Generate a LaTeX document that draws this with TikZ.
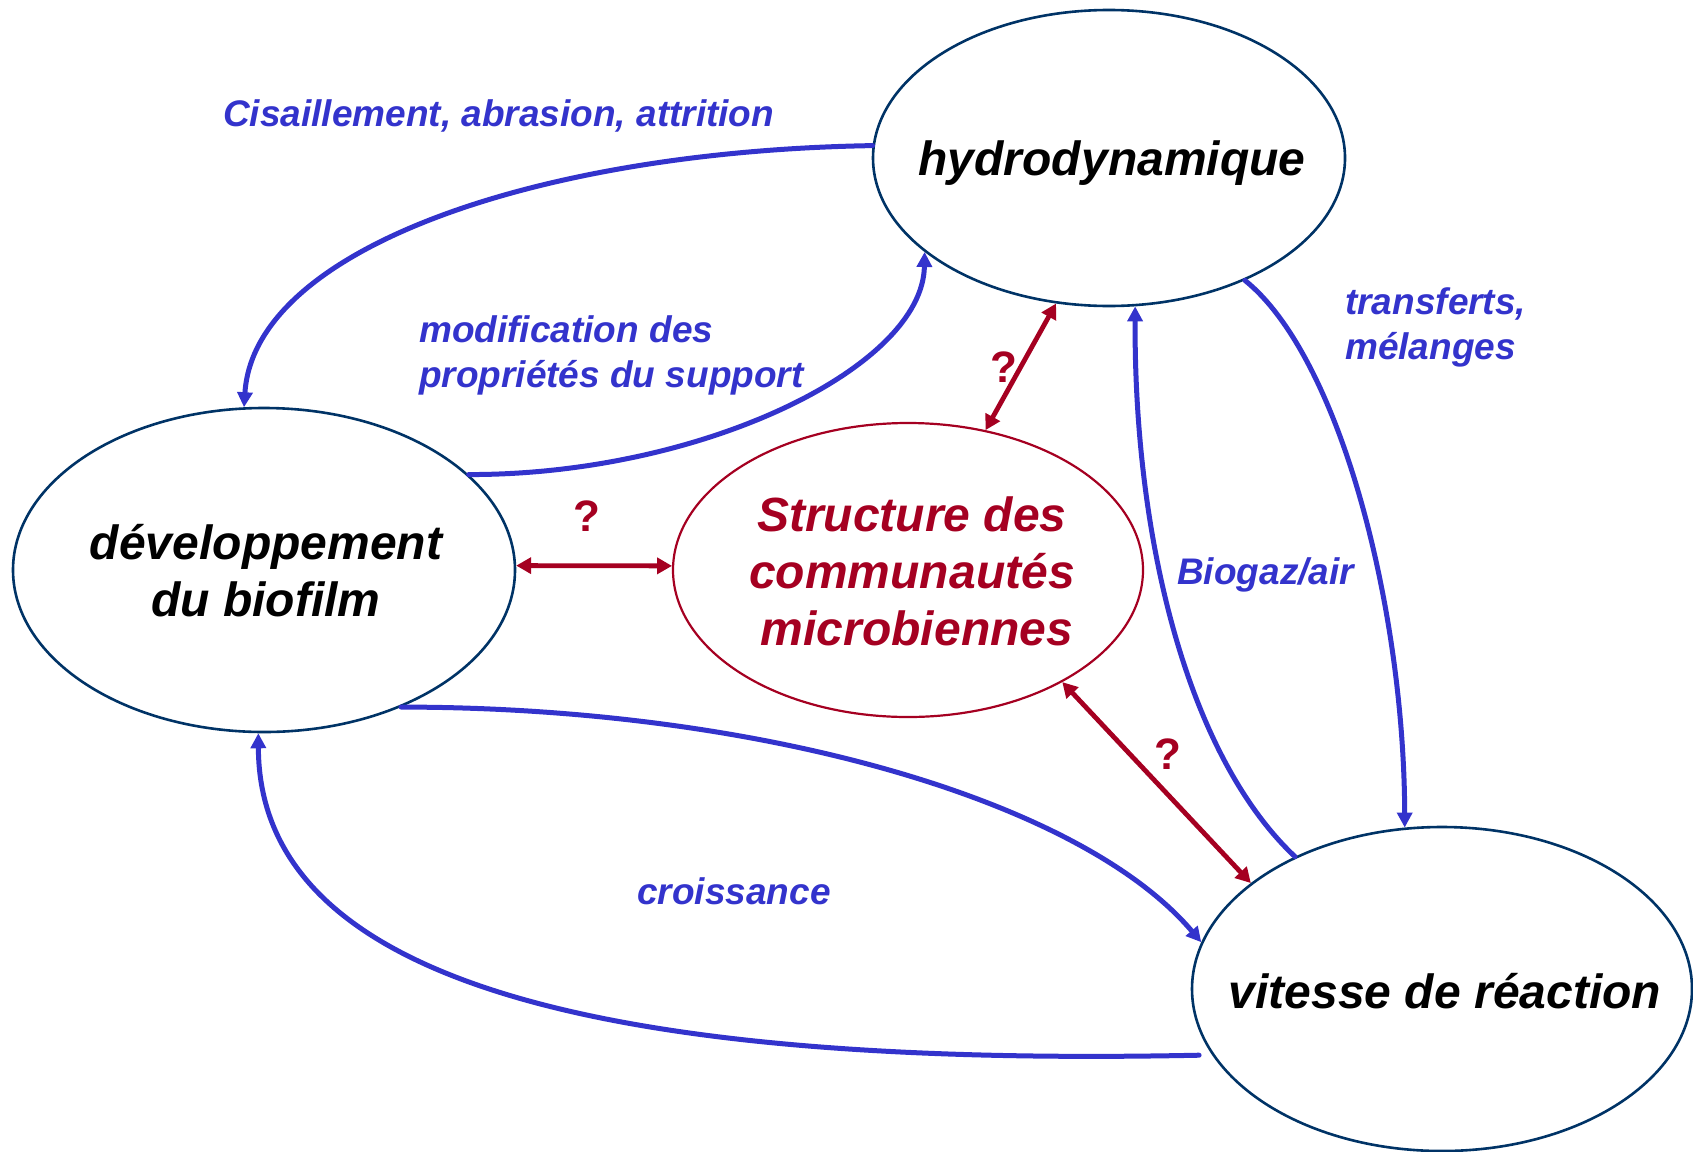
\documentclass[tikz,border=0pt]{standalone}
\usepackage{fontspec}
\setmainfont{Liberation Sans}
\usetikzlibrary{shapes.geometric,arrows.meta}
\definecolor{myblue}{HTML}{3333CC}
\definecolor{myred}{HTML}{A50021}
\definecolor{navy}{HTML}{003366}
\begin{document}
\begin{tikzpicture}[x=1pt,y=-1pt,
 ell/.style={ellipse,draw=navy,line width=2.6pt,inner sep=0pt},
 sell/.style={ellipse,draw=myred,line width=2.2pt,inner sep=0pt},
 maintxt/.style={font=\fontsize{48}{57}\selectfont\bfseries\itshape,align=center,inner sep=0pt},
 lbl/.style={font=\fontsize{37}{45}\selectfont\bfseries\itshape,text=myblue,align=left,inner sep=0pt},
 qm/.style={font=\fontsize{44}{50}\selectfont\bfseries,text=myred,inner sep=0pt},
 barrow/.style={draw=myblue,line width=5pt,line cap=round,-{Triangle[length=15pt,width=15pt]}},
 rarrow/.style={draw=myred,line width=4.8pt,{Triangle[length=15pt,width=16pt]}-{Triangle[length=15pt,width=16pt]}},
]
\useasboundingbox (0,0) rectangle (1693,1151);
% ellipses
\node[ell,minimum width=472pt,minimum height=296pt] (H) at (1109,158) {};
\node[ell,minimum width=502pt,minimum height=324pt] (D) at (264,570) {};
\node[sell,minimum width=470pt,minimum height=294pt] (S) at (908,570) {};
\node[ell,minimum width=500pt,minimum height=324pt] (V) at (1442,989) {};
% texts
\node[maintxt] (Ht) at (1112,163) {hydrodynamique};
\node[maintxt] (Dt) at (266,571) {développement\\du biofilm};
\node[maintxt,text=myred] (St) at (912,571) {Structure des\\communautés\\\hspace*{10pt}microbiennes};
\node[maintxt] (Vt) at (1445,991) {vitesse de réaction};
% labels
\node[lbl,anchor=west] (l1) at (223,116) {Cisaillement, abrasion, attrition};
\node[lbl,anchor=west] (l2) at (419,355) {modification des\\propriétés du support};
\node[lbl,anchor=west] (l3) at (1345,327) {transferts,\\mélanges};
\node[lbl,anchor=west] (l4) at (1177,575) {Biogaz/air};
\node[lbl] (l5) at (734,891) {croissance};
\node[qm] (q1) at (587,516) {?};
\node[qm] (q2) at (1004,367) {?};
\node[qm] (q3) at (1168,754) {?};
% blue connectors
\draw[barrow] (H.177) .. controls (540,151) and (254,248) .. (D.97);
\draw[barrow] (D.25) .. controls (702,475) and (923,367) .. (H.207);
\draw[barrow] (D.-45) .. controls (756,707) and (1080,799) .. (V.169);
\draw[barrow,shorten <=13pt] (V.196) .. controls (580,1068) and (259,975) .. (D.268);
\draw[barrow] (H.-42) .. controls (1339,356) and (1404,605) .. (V.103);
\draw[barrow] (V.138) .. controls (1188,756) and (1134,540) .. (H.280);
% red connectors
\draw[rarrow] (D.1) -- (S.179);
\draw[rarrow] (S.61) -- (H.250);
\draw[rarrow] (S.-36) -- (V.151);
\end{tikzpicture}
\end{document}
